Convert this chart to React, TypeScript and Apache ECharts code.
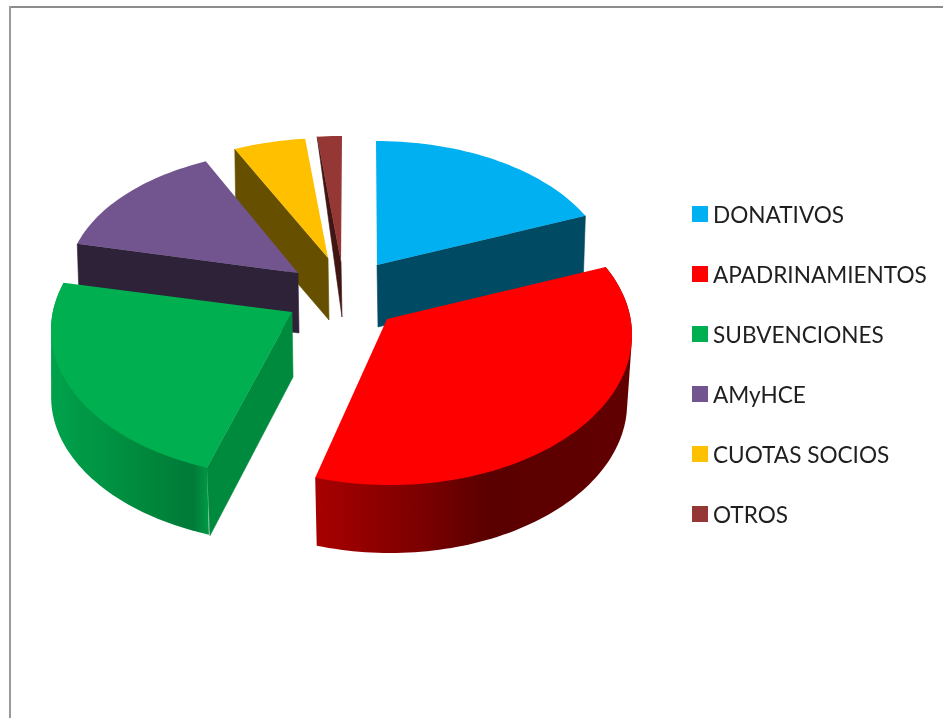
import React, { useEffect, useRef } from "react";
import * as echarts from "echarts";

const CATEGORIES = ["DONATIVOS", "APADRINAMIENTOS", "SUBVENCIONES", "AMyHCE", "CUOTAS SOCIOS", "OTROS"];
const VALUES = [17.5, 37.5, 24.5, 13.8, 5, 1.7];
const TOP_COLORS = ["#00B0F0", "#FF0000", "#00B050", "#72558F", "#FFC000", "#953735"];
const CUT_COLORS = ["#004A63", "", "#008A3D", "#2D2238", "#665000", "#401512"];
const DRAW_ORDER = [3, 7, 6, 5, 4, 2]; // series z

type Layout = {
  cx: number; cy: number; rx: number; ry: number;
  ax: number; ay: number; rotate: number;
  cut: "start" | "end" | null; apexDepth: number; rimDx: number; rimDy: number;
  wall: null | { dx: number; dy: number; scale: number; stops: [number, string][] };
};

const LAYOUT: Layout[] = [
  { cx: 376, cy: 278, rx: 235, ry: 137, ax: 377, ay: 265, rotate: 0, cut: "end", apexDepth: 62, rimDx: -2, rimDy: 60, wall: null },
  { cx: 390, cy: 335, rx: 242, ry: 150, ax: 387, ay: 319, rotate: 0, cut: null, apexDepth: 0, rimDx: 0, rimDy: 0,
    wall: { dx: 0, dy: 68, scale: 0.98, stops: [[0, "#A80000"], [0.3, "#800000"], [0.55, "#5A0000"], [1, "#620000"]] } },
  { cx: 291, cy: 330, rx: 240, ry: 147, ax: 292, ay: 312, rotate: 2.5, cut: "start", apexDepth: 65, rimDx: 3, rimDy: 68,
    wall: { dx: 3, dy: 67, scale: 1.012, stops: [[0, "#00A24C"], [0.55, "#008A3D"], [0.9, "#007A38"], [1, "#009A46"]] } },
  { cx: 301, cy: 280, rx: 233, ry: 130, ax: 298, ay: 273, rotate: 0, cut: "start", apexDepth: 60, rimDx: 2, rimDy: 60, wall: null },
  { cx: 330, cy: 265, rx: 233, ry: 127, ax: 328, ay: 258, rotate: 0, cut: "start", apexDepth: 62, rimDx: 1, rimDy: 62, wall: null },
  { cx: 342, cy: 262, rx: 233, ry: 126, ax: 341, ay: 262, rotate: 0, cut: "start", apexDepth: 55, rimDx: 0, rimDy: 0, wall: null },
];

const total = VALUES.reduce((a, b) => a + b, 0);

function arc(l: Layout, a0: number, a1: number, dx = 0, dy = 0, scale = 1): number[][] {
  const n = Math.max(4, Math.ceil(Math.abs(a1 - a0) / 1.5));
  const out: number[][] = [];
  for (let i = 0; i <= n; i++) {
    const d = ((a0 + ((a1 - a0) * i) / n) * Math.PI) / 180;
    out.push([l.cx + dx + l.rx * scale * Math.sin(d), l.cy + dy - l.ry * Math.cos(d)]);
  }
  return out;
}

// Convex hull, so that a wall meets the top face along a tangent instead of a notch.
function hull(input: number[][]): number[][] {
  const pts = [...input].sort((p, q) => p[0] - q[0] || p[1] - q[1]);
  const cross = (o: number[], a: number[], b: number[]) =>
    (a[0] - o[0]) * (b[1] - o[1]) - (a[1] - o[1]) * (b[0] - o[0]);
  const lower: number[][] = [];
  for (const p of pts) {
    while (lower.length >= 2 && cross(lower[lower.length - 2], lower[lower.length - 1], p) <= 0) lower.pop();
    lower.push(p);
  }
  const upper: number[][] = [];
  for (const p of pts.slice().reverse()) {
    while (upper.length >= 2 && cross(upper[upper.length - 2], upper[upper.length - 1], p) <= 0) upper.pop();
    upper.push(p);
  }
  return lower.slice(0, -1).concat(upper.slice(0, -1));
}

function makeRenderItem(index: number) {
  return (_params: any, api: any) => {
    const value = api.value(0);
    const before = VALUES.slice(0, index).reduce((a, b) => a + b, 0);
    const l = LAYOUT[index];
    const a0 = (before / total) * 360 + l.rotate;
    const a1 = a0 + (value / total) * 360;
    const top = arc(l, a0, a1);
    const children: any[] = [];
    if (l.wall) {
      const w = l.wall;
      const bottom = arc(l, a0, a1, w.dx, w.dy, w.scale);
      children.push({
        type: "polygon",
        shape: { points: hull([...top, ...bottom]) },
        style: {
          fill: new echarts.graphic.LinearGradient(0, 0, 1, 0, w.stops.map(([offset, color]) => ({ offset, color }))),
        },
      });
    }
    if (l.cut) {
      const rim = l.cut === "start" ? top[0] : top[top.length - 1];
      children.push({
        type: "polygon",
        shape: {
          points: [
            [l.ax, l.ay],
            rim,
            [rim[0] + l.rimDx, rim[1] + l.rimDy],
            [l.ax + 1, l.ay + l.apexDepth],
          ],
        },
        style: { fill: CUT_COLORS[index], stroke: CUT_COLORS[index], lineWidth: 0.6 },
      });
    }
    children.push({
      type: "polygon",
      shape: { points: [[l.ax, l.ay], ...top] },
      style: { fill: TOP_COLORS[index] },
    });
    return { type: "group", children };
  };
}

export default function App() {
  const ref = useRef<HTMLDivElement>(null);
  useEffect(() => {
    const chart = echarts.init(ref.current!, null, { renderer: "svg" });
    chart.setOption({
      animation: false,
      backgroundColor: "#ffffff",
      legend: {
        show: true,
        orient: "vertical",
        left: 687,
        top: 194,
        itemWidth: 16,
        itemHeight: 16,
        itemGap: 30,
        icon: "rect",
        selectedMode: false,
        data: CATEGORIES,
        textStyle: { fontFamily: "Lato", fontSize: 22.6, color: "#1f1f1f", lineHeight: 30 },
      },
      graphic: [
        { type: "rect", shape: { x: 9, y: 6, width: 934, height: 2 }, style: { fill: "#8C8C8C" } },
        { type: "rect", shape: { x: 9, y: 6, width: 2, height: 712 }, style: { fill: "#9A9A9A" } },
      ],
      series: CATEGORIES.map((name, i) => ({
        type: "custom",
        name,
        coordinateSystem: "none",
        silent: true,
        z: DRAW_ORDER[i],
        itemStyle: { color: TOP_COLORS[i] },
        data: [[VALUES[i]]],
        renderItem: makeRenderItem(i),
      })),
    });
    return () => chart.dispose();
  }, []);
  return <div ref={ref} style={{ position: "absolute", left: 0, top: 0, width: 943, height: 718, filter: "blur(0.5px)" }} />;
}
